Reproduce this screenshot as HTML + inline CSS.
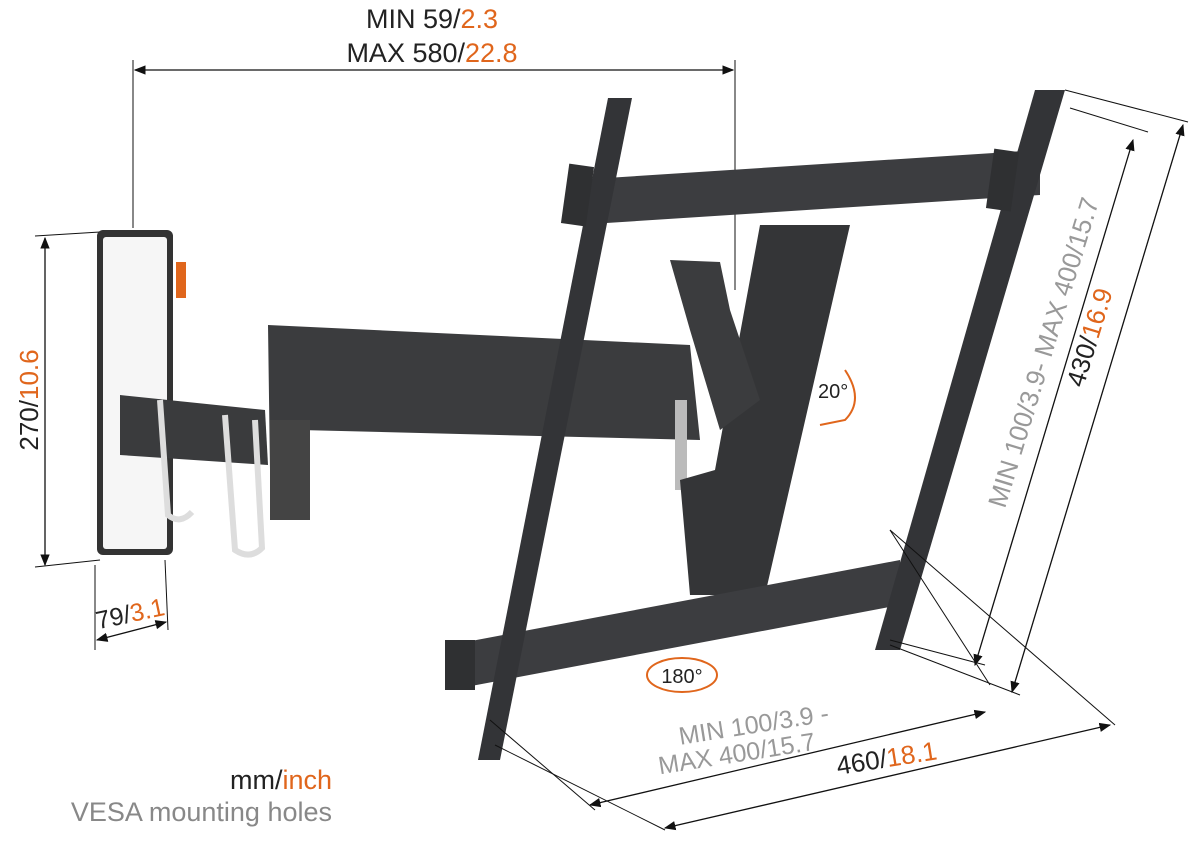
<!DOCTYPE html>
<html><head><meta charset="utf-8"><style>
html,body{margin:0;padding:0;background:#fff;width:1200px;height:849px;overflow:hidden}
svg{display:block}
text{font-family:"Liberation Sans","DejaVu Sans",sans-serif}
</style></head><body>
<svg width="1200" height="849" viewBox="0 0 1200 849" xmlns="http://www.w3.org/2000/svg">
<defs>
<marker id="a" viewBox="0 0 10 10" refX="9" refY="5" markerWidth="9" markerHeight="9" orient="auto-start-reverse"><path d="M0,1 L10,5 L0,9 z" fill="#111"/></marker>
</defs>
<text x="432" y="28" font-size="27" text-anchor="middle" fill="#222">MIN 59/<tspan fill="#e0661c">2.3</tspan></text>
<text x="432" y="62" font-size="27" text-anchor="middle" fill="#222">MAX 580/<tspan fill="#e0661c">22.8</tspan></text>
<line x1="135" y1="70" x2="733" y2="70" stroke="#111" stroke-width="1.3" marker-start="url(#a)" marker-end="url(#a)"/>
<line x1="133" y1="60" x2="133" y2="228" stroke="#111" stroke-width="1"/>
<line x1="735" y1="60" x2="735" y2="290" stroke="#111" stroke-width="1"/>
<line x1="45" y1="238" x2="45" y2="565" stroke="#111" stroke-width="1.3" marker-start="url(#a)" marker-end="url(#a)"/>
<line x1="35" y1="236" x2="100" y2="232" stroke="#111" stroke-width="1"/>
<line x1="35" y1="567" x2="100" y2="560" stroke="#111" stroke-width="1"/>
<text transform="translate(38,400) rotate(-90)" font-size="26" text-anchor="middle" fill="#222">270/<tspan fill="#e0661c">10.6</tspan></text>
<rect x="97" y="230" width="76" height="325" rx="6" fill="#333"/>
<rect x="103" y="237" width="64" height="312" rx="3" fill="#f6f6f6"/>
<rect x="176" y="262" width="10" height="36" fill="#e0661c"/>
<line x1="95" y1="565" x2="95" y2="650" stroke="#111" stroke-width="1"/>
<line x1="165" y1="560" x2="168" y2="630" stroke="#111" stroke-width="1"/>
<line x1="97" y1="640" x2="166" y2="622" stroke="#111" stroke-width="1.3" marker-start="url(#a)" marker-end="url(#a)"/>
<text transform="translate(132,622) rotate(-12)" font-size="25" text-anchor="middle" fill="#222">79/<tspan fill="#e0661c">3.1</tspan></text>
<path d="M120,395 L265,410 L268,465 L120,455 z" fill="#3a3b3d"/>
<path d="M268,325 L690,345 L700,440 L300,430 L270,470 z" fill="#3b3c3e"/>
<rect x="270" y="420" width="40" height="100" fill="#444"/>
<path d="M225,415 L235,550 Q250,560 262,548 L255,420" fill="none" stroke="#ddd" stroke-width="6"/>
<path d="M160,400 L168,515 Q180,525 192,512" fill="none" stroke="#ddd" stroke-width="6"/>
<rect x="675" y="400" width="12" height="90" fill="#bbb"/>
<path d="M760,225 L850,225 L765,595 L690,595 L680,480 L715,470 z" fill="#343537"/>
<path d="M670,260 L720,262 L730,310 L760,400 L720,430 L690,330 z" fill="#3b3c3e"/>
<path d="M575,180 L1040,150 L1040,195 L575,225 z" fill="#3c3d40"/>
<path d="M450,645 L900,560 L900,605 L450,690 z" fill="#3c3d40"/>
<path d="M608,98 L632,98 L500,760 L478,760 z" fill="#333437"/>
<path d="M1035,90 L1065,90 L900,650 L875,650 z" fill="#333437"/>
<rect x="565" y="165" width="25" height="60" fill="#2f3032" transform="rotate(8 577 195)"/>
<rect x="990" y="150" width="25" height="60" fill="#2f3032" transform="rotate(8 1002 180)"/>
<rect x="445" y="640" width="30" height="50" fill="#2f3032"/>
<text x="818" y="398" font-size="20" fill="#222">20°</text>
<path d="M845,370 Q865,400 845,420 L820,425" fill="none" stroke="#e0661c" stroke-width="2"/>
<ellipse cx="682" cy="675" rx="35" ry="17" fill="#fff" stroke="#e0661c" stroke-width="2"/>
<text x="682" y="683" font-size="20" text-anchor="middle" fill="#222">180°</text>
<line x1="1133" y1="140" x2="975" y2="665" stroke="#111" stroke-width="1.3" marker-start="url(#a)" marker-end="url(#a)"/>
<line x1="1183" y1="125" x2="1012" y2="692" stroke="#111" stroke-width="1.3" marker-start="url(#a)" marker-end="url(#a)"/>
<line x1="1070" y1="108" x2="1148" y2="132" stroke="#111" stroke-width="1"/>
<line x1="1065" y1="90" x2="1188" y2="122" stroke="#111" stroke-width="1"/>
<line x1="890" y1="530" x2="990" y2="685" stroke="#111" stroke-width="1"/>
<line x1="890" y1="530" x2="1115" y2="725" stroke="#111" stroke-width="1"/>
<line x1="890" y1="640" x2="985" y2="665" stroke="#111" stroke-width="1"/>
<line x1="890" y1="645" x2="1020" y2="695" stroke="#111" stroke-width="1"/>
<text transform="translate(1052,355) rotate(-73)" font-size="26" text-anchor="middle" fill="#999">MIN 100/3.9- MAX 400/15.7</text>
<text transform="translate(1098,340) rotate(-73)" font-size="26" text-anchor="middle" fill="#222">430/<tspan fill="#e0661c">16.9</tspan></text>
<line x1="590" y1="805" x2="985" y2="712" stroke="#111" stroke-width="1.3" marker-start="url(#a)" marker-end="url(#a)"/>
<line x1="665" y1="828" x2="1110" y2="725" stroke="#111" stroke-width="1.3" marker-start="url(#a)" marker-end="url(#a)"/>
<line x1="490" y1="720" x2="595" y2="810" stroke="#111" stroke-width="1"/>
<line x1="495" y1="745" x2="665" y2="830" stroke="#111" stroke-width="1"/>
<text transform="translate(755,733) rotate(-9)" font-size="25" text-anchor="middle" fill="#999">MIN 100/3.9 -</text>
<text transform="translate(738,762) rotate(-9)" font-size="25" text-anchor="middle" fill="#999">MAX 400/15.7</text>
<text transform="translate(888,767) rotate(-9)" font-size="26" text-anchor="middle" fill="#222">460/<tspan fill="#e0661c">18.1</tspan></text>
<text x="332" y="789" font-size="27" text-anchor="end" fill="#222">mm/<tspan fill="#e0661c">inch</tspan></text>
<text x="332" y="821" font-size="27" text-anchor="end" fill="#888">VESA mounting holes</text>
</svg>
</body></html>
